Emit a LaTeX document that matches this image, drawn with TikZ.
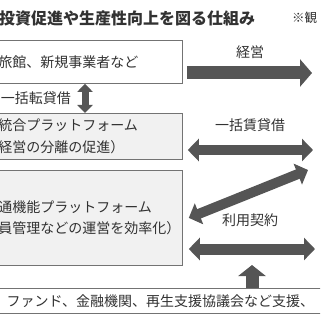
\documentclass[tikz,border=0pt]{standalone}
\usepackage{fontspec}
\setmainfont{Noto Sans CJK JP}
\usetikzlibrary{arrows.meta,positioning,calc}
\definecolor{schemedark}{RGB}{85,85,85}
\definecolor{schemeline}{RGB}{115,115,115}
\definecolor{schemelight}{RGB}{241,241,241}
\definecolor{schemetext}{RGB}{50,50,50}

\begin{document}
\begin{tikzpicture}[x=1pt,y=-1pt,
box/.style={draw=schemeline, line width=0.8pt, anchor=north west, inner xsep=1pt, inner ysep=0pt,
text width=183pt, align=left, text=schemetext, font=\fontsize{14}{21.5}\selectfont},
basebox/.style={draw=schemeline, line width=0.8pt, anchor=north west, fill=white, inner sep=0pt,
minimum width=326pt, minimum height=25pt, text=schemetext, font=\fontsize{14}{14}\selectfont},
arrowtext/.style={inner sep=0pt, text=schemetext, font=\fontsize{14}{14}\selectfont},
bigarrow/.style={draw=schemedark, line width=13pt, -{Triangle[length=12pt,width=27pt]}},
duoarrow/.style={draw=schemedark, line width=10pt,
{Triangle[length=11pt,width=22pt]}-{Triangle[length=11pt,width=22pt]}},
smallarrow/.style={draw=schemedark, line width=7pt,
{Triangle[length=8pt,width=15pt]}-{Triangle[length=8pt,width=15pt]}},
uparrow/.style={draw=schemedark, line width=13pt, -{Triangle[length=11pt,width=27pt]}}
]
\useasboundingbox (0,0) rectangle (320,320);
\clip (0,0) rectangle (320,320);

\node[anchor=west, inner sep=0pt, text=schemetext, font=\fontsize{16}{16}\selectfont\bfseries]
(title) at (-1,18) {投資促進や生産性向上を図る仕組み};
\node[anchor=west, inner sep=0pt, text=schemetext, font=\fontsize{12.5}{12.5}\selectfont]
(note) at (292,18) {※観};

\node[box, fill=white, minimum height=43pt] (ryokan) at (-3,40) {旅館、新規事業者など};
\node[box, fill=schemelight, minimum height=46pt] (togo) at (-3,113)
{統合プラットフォーム\\経営の分離の促進）};
\node[box, fill=schemelight, minimum height=95pt] (shared) at (-3,170)
{通機能プラットフォーム\\員管理などの運営を効率化）};
\node[basebox] (support) at (-3,288) {ファンド、金融機関、再生支援協議会など支援、};

\coordinate (swapx) at (85,0);
\coordinate (keieiend) at (312,73);
\coordinate (leaseend) at (313,150);
\coordinate (useend) at (308,170);
\coordinate (contractend) at (315,249);
\coordinate (supporttip) at (252,265);

\draw[bigarrow] ($(ryokan.east |- keieiend)+(4,0)$) -- (keieiend);
\draw[smallarrow] (ryokan.south -| swapx) -- (togo.north -| swapx);
\draw[duoarrow] ($(togo.east |- leaseend)+(5,0)$) -- (leaseend);
\draw[duoarrow] ($(shared.east)+(6,0)$) -- (useend);
\draw[duoarrow, line width=11pt] ($(shared.east |- contractend)+(6,0)$) -- (contractend);
\draw[uparrow] (support.north -| supporttip) -- (supporttip);

\node[arrowtext] (keieilabel) at (250,52) {経営};
\node[arrowtext, anchor=east] (swaplabel) at (71,98) {一括転貸借};
\node[arrowtext] (leaselabel) at (250,125) {一括賃貸借};
\node[arrowtext] (uselabel) at (250,220) {利用契約};

\end{tikzpicture}
\end{document}
